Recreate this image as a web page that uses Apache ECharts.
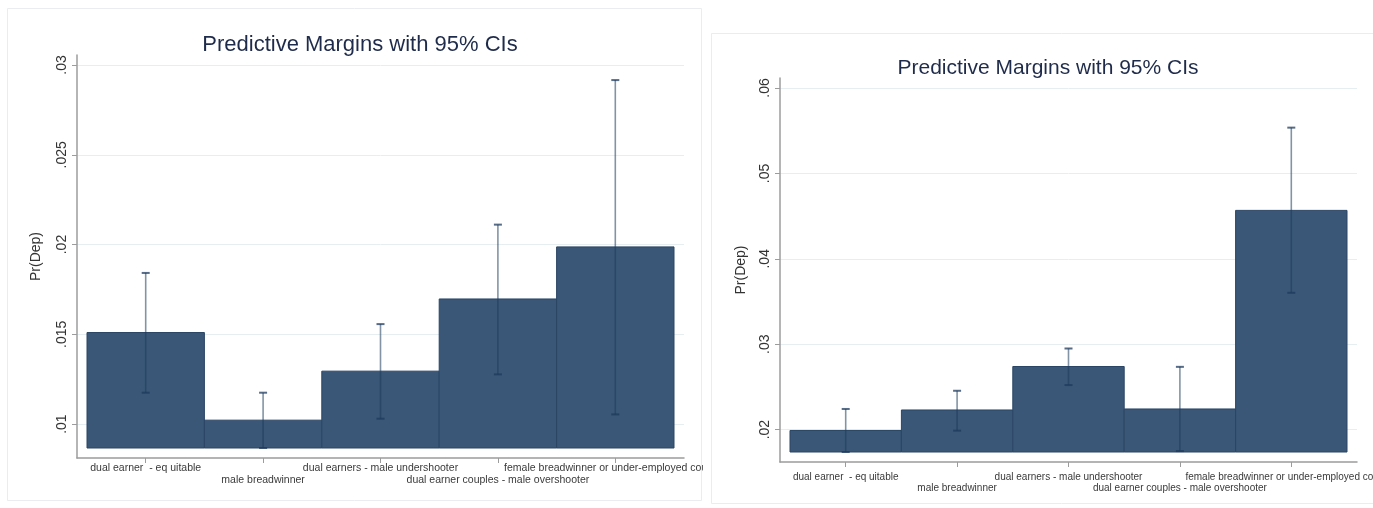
<!DOCTYPE html>
<html>
<head>
<meta charset="utf-8">
<script src="https://cdn.jsdelivr.net/npm/echarts@6/dist/echarts.min.js"></script>
<style>
  html, body { margin: 0; padding: 0; background: #fff; }
  #wrap { position: relative; width: 1373px; height: 508px; overflow: hidden; }
  .clip { position: absolute; top: 0; height: 508px; overflow: hidden; }
  #lclip { left: 0; width: 703px; }
  #rclip { left: 703px; width: 670px; }
  #left { width: 780px; height: 508px; }
  #right { width: 760px; height: 508px; }
</style>
</head>
<body>
<div id="wrap">
  <div class="clip" id="lclip"><div id="left"></div></div>
  <div class="clip" id="rclip"><div id="right"></div></div>
</div>
<script>
// Couple types on the x axis
const categories = [
  'dual earner  - eq uitable',
  'male breadwinner',
  'dual earners - male undershooter',
  'dual earner couples - male overshooter',
  'female breadwinner or under-employed couples'
];

// Left panel: predicted Pr(Dep) with 95% confidence limits
const marginsL = [0.0151, 0.01022, 0.01295, 0.01697, 0.01987];
const lowerL   = [0.01175, 0.00867, 0.0103, 0.01277, 0.01054];
const upperL   = [0.01842, 0.01175, 0.01557, 0.02111, 0.02916];
const yTicksL  = [0.01, 0.015, 0.02, 0.025, 0.03];
const yLabelsL = ['.01', '.015', '.02', '.025', '.03'];

// Right panel: predicted Pr(Dep) with 95% confidence limits
const marginsR = [0.0199, 0.0223, 0.02739, 0.02242, 0.04567];
const lowerR   = [0.01738, 0.01988, 0.02522, 0.01749, 0.03602];
const upperR   = [0.02242, 0.02455, 0.0295, 0.02735, 0.05536];
const yTicksR  = [0.02, 0.03, 0.04, 0.05, 0.06];
const yLabelsR = ['.02', '.03', '.04', '.05', '.06'];

const titleText = 'Predictive Margins with 95% CIs';
const FONT = '"Liberation Sans", Arial, Helvetica, sans-serif';

function buildOption(cfg) {
  const { margins, lower, upper, yTicks, yLabels, plot, inset, title, frame, text } = cfg;
  const base = Math.min.apply(null, lower);
  const yMax = yTicks[yTicks.length - 1];
  const plotH = plot.bottom - plot.top;
  const plotW = plot.right - plot.left;
  const perPxY = (yMax - base) / plotH;
  const perPxX = categories.length / plotW;
  const xMin = -0.5 - inset * perPxX;
  const xMax = categories.length - 0.5 + inset * perPxX;

  const xIdx = categories.map((c, i) => i);
  const evenIdx = xIdx.filter(i => i % 2 === 0);
  const oddIdx = xIdx.filter(i => i % 2 === 1);

  const labelStyle = {
    show: true, hideOverlap: false, showMinLabel: true, showMaxLabel: true,
    fontFamily: FONT, fontSize: text.x, color: '#3a3a3a',
    formatter: v => categories[Math.round(v)]
  };

  return {
    animation: false,
    backgroundColor: '#fff',
    graphic: [{
      type: 'rect', silent: true, z: -10,
      shape: frame,
      style: { fill: '#fff', stroke: '#e9edf0', lineWidth: 1 }
    }],
    title: {
      text: titleText,
      left: title.x, top: title.y,
      textAlign: 'center', textVerticalAlign: 'middle',
      textStyle: { fontFamily: FONT, fontSize: text.title, fontWeight: 'normal', color: '#1f2b4a' }
    },
    grid: {
      left: plot.left - inset, top: plot.top - inset,
      width: plotW + 2 * inset, height: plotH + 2 * inset,
      containLabel: false
    },
    xAxis: [
      {
        // main axis: line, ticks and the first row of staggered labels
        type: 'value', position: 'bottom', min: xMin, max: xMax,
        axisLine: { show: true, onZero: false, lineStyle: { color: '#9c9c9c', width: 1.5 } },
        axisTick: { show: true, customValues: xIdx, length: 5, lineStyle: { color: '#9c9c9c', width: 1 } },
        axisLabel: Object.assign({}, labelStyle, { customValues: evenIdx, margin: text.xMargin }),
        splitLine: { show: false }
      },
      {
        // second row of staggered labels
        type: 'value', position: 'bottom', min: xMin, max: xMax,
        axisLine: { show: false, onZero: false },
        axisTick: { show: false },
        axisLabel: Object.assign({}, labelStyle, { customValues: oddIdx, margin: text.xMargin + text.x + 1.5 }),
        splitLine: { show: false }
      }
    ],
    yAxis: {
      type: 'value',
      min: base - inset * perPxY,
      max: yMax + inset * perPxY,
      name: 'Pr(Dep)', nameLocation: 'middle', nameRotate: 90, nameGap: text.nameGap,
      nameTextStyle: { fontFamily: FONT, fontSize: 14, color: '#333' },
      axisLine: { show: true, onZero: false, lineStyle: { color: '#9c9c9c', width: 1.5 } },
      axisTick: { show: true, customValues: yTicks, length: 5, lineStyle: { color: '#9c9c9c', width: 1 } },
      axisLabel: {
        show: true, customValues: yTicks, rotate: 90, margin: 8,
        showMinLabel: true, showMaxLabel: true,
        fontFamily: FONT, fontSize: 14, color: '#333',
        formatter: v => {
          const k = yTicks.findIndex(t => Math.abs(t - v) < 1e-9);
          return k >= 0 ? yLabels[k] : '';
        }
      },
      splitLine: { show: true, lineStyle: { color: '#e6eef1', width: 1 } }
    },
    series: [
      {
        type: 'custom',
        name: 'margin',
        xAxisIndex: 0,
        data: margins.map((m, i) => [i, m]),
        renderItem: (params, api) => {
          const i = api.value(0), v = api.value(1);
          const p0 = api.coord([i - 0.5, base]);
          const p1 = api.coord([i + 0.5, v]);
          return {
            type: 'rect',
            shape: { x: p0[0], y: p1[1], width: p1[0] - p0[0], height: p0[1] - p1[1] },
            style: { fill: '#3a5777', stroke: '#2a4565', lineWidth: 1 }
          };
        },
        z: 2
      },
      {
        type: 'custom',
        name: '95% CI',
        xAxisIndex: 0,
        data: margins.map((m, i) => [i, lower[i], upper[i]]),
        renderItem: (params, api) => {
          const i = api.value(0);
          const lo = api.coord([i, api.value(1)]);
          const hi = api.coord([i, api.value(2)]);
          const cap = 4;
          const ls = { stroke: '#1d3a5c', lineWidth: 1.6, opacity: 0.55 };
          const cs = { stroke: '#1d3a5c', lineWidth: 2, opacity: 0.75 };
          return {
            type: 'group',
            children: [
              { type: 'line', shape: { x1: lo[0], y1: lo[1], x2: hi[0], y2: hi[1] }, style: ls },
              { type: 'line', shape: { x1: hi[0] - cap, y1: hi[1], x2: hi[0] + cap, y2: hi[1] }, style: cs },
              { type: 'line', shape: { x1: lo[0] - cap, y1: lo[1], x2: lo[0] + cap, y2: lo[1] }, style: cs }
            ]
          };
        },
        z: 3
      }
    ]
  };
}

const leftChart = echarts.init(document.getElementById('left'), null, { renderer: 'canvas' });
leftChart.setOption(buildOption({
  margins: marginsL, lower: lowerL, upper: upperL, yTicks: yTicksL, yLabels: yLabelsL,
  plot: { left: 87, right: 674, top: 65, bottom: 448 }, inset: 10,
  title: { x: 355, y: 40 },
  frame: { x: 7.5, y: 8.5, width: 694, height: 492 },
  text: { title: 22, x: 10.5, xMargin: 5, nameGap: 34 }
}));

const rightChart = echarts.init(document.getElementById('right'), null, { renderer: 'canvas' });
rightChart.setOption(buildOption({
  margins: marginsR, lower: lowerR, upper: upperR, yTicks: yTicksR, yLabels: yLabelsR,
  plot: { left: 87, right: 644, top: 88, bottom: 452 }, inset: 10,
  title: { x: 340, y: 63 },
  frame: { x: 8.5, y: 33.5, width: 700, height: 470 },
  text: { title: 21, x: 10, xMargin: 10, nameGap: 32 }
}));
</script>
</body>
</html>
